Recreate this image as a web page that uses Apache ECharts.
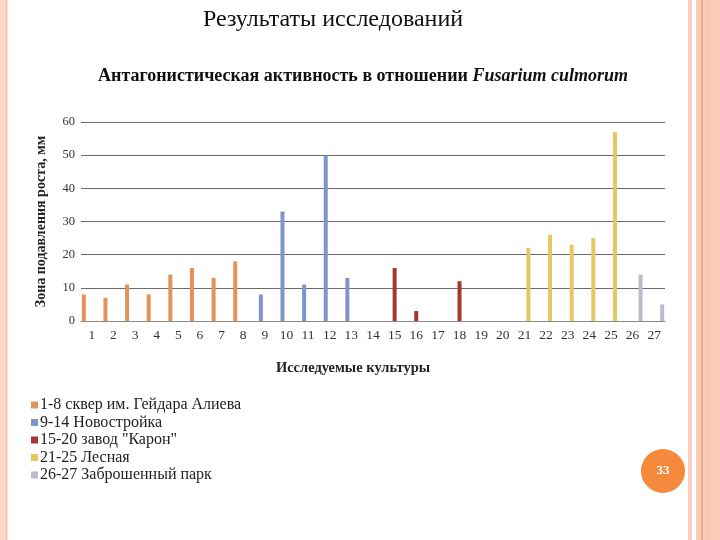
<!DOCTYPE html>
<html>
<head>
<meta charset="utf-8">
<script src="https://cdn.jsdelivr.net/npm/echarts@6/dist/echarts.min.js"></script>
<style>
html,body{margin:0;padding:0;background:#fff;}
#chart{width:720px;height:540px;}
</style>
</head>
<body>
<div id="chart"></div>
<script>
const categories = ['1','2','3','4','5','6','7','8','9','10','11','12','13','14','15','16','17','18','19','20','21','22','23','24','25','26','27'];
const seriesNames = ['1-8 сквер им. Гейдара Алиева','9-14 Новостройка','15-20 завод "Карон"','21-25 Лесная','26-27 Заброшенный парк'];
const skver = [8, 7, 11, 8, 14, 16, 13, 18];      // cultures 1-8
const novostroika = [8, 33, 11, 50, 13, 0];       // cultures 9-14
const karon = [16, 3, 0, 12, 0, 0];               // cultures 15-20
const lesnaya = [22, 26, 23, 25, 57];             // cultures 21-25
const park = [14, 5];                             // cultures 26-27
const groupStart = ['1', '9', '15', '21', '26'];
const yTicks = [0, 10, 20, 30, 40, 50, 60];
const colors = ['#E3925C', '#7F95C9', '#A3372D', '#E4C862', '#B9BCCE'];

const groups = [skver, novostroika, karon, lesnaya, park];
function buildData(vals, start) {
  const idx = categories.indexOf(start);
  return categories.map((c, i) => (i >= idx && i < idx + vals.length) ? vals[i - idx] : '-');
}

const serif = 'Liberation Serif';
const chart = echarts.init(document.getElementById('chart'), null, {renderer: 'canvas'});
chart.setOption({
  animation: false,
  backgroundColor: '#fff',
  color: colors,
  title: [
    {
      text: 'Результаты исследований',
      left: 328, top: 3, textAlign: 'center',
      textStyle: {fontFamily: serif, fontSize: 24, fontWeight: 'normal', color: '#111'}
    },
    {
      text: '{b|Антагонистическая активность в отношении }{i|Fusarium culmorum}',
      left: 358, top: 62, textAlign: 'center',
      textStyle: {
        rich: {
          b: {fontFamily: serif, fontSize: 18, fontWeight: 'bold', color: '#111'},
          i: {fontFamily: serif, fontSize: 18, fontWeight: 'bold', fontStyle: 'italic', color: '#111'}
        }
      }
    }
  ],
  legend: {
    orient: 'vertical',
    left: 31, top: 397,
    padding: 0,
    itemWidth: 7, itemHeight: 7, itemGap: 1.5,
    icon: 'rect',
    data: seriesNames,
    textStyle: {fontFamily: serif, fontSize: 16, color: '#222', padding: [0, 0, 0, -3], lineHeight: 16}
  },
  grid: {left: 81, right: 55, top: 122, bottom: 219, containLabel: false},
  xAxis: {
    type: 'category',
    data: categories,
    name: 'Исследуемые культуры',
    nameLocation: 'middle',
    nameGap: 40,
    nameTextStyle: {fontFamily: serif, fontSize: 14.5, fontWeight: 'bold', color: '#222', padding: [0, 40, 0, 0]},
    axisLine: {lineStyle: {color: '#8a8a8a'}},
    axisTick: {show: false},
    axisLabel: {fontFamily: serif, fontSize: 13.5, color: '#333', margin: 7, interval: 0}
  },
  yAxis: {
    type: 'value',
    min: 0, max: 60, interval: 10,
    name: 'Зона подавления роста, мм',
    nameLocation: 'middle',
    nameGap: 33,
    nameTextStyle: {fontFamily: serif, fontSize: 14, fontWeight: 'bold', color: '#222'},
    axisLine: {show: false},
    axisTick: {show: false},
    axisLabel: {fontFamily: serif, fontSize: 12.5, color: '#333', margin: 6,
      formatter: v => yTicks.includes(v) ? String(v) : ''},
    splitLine: {lineStyle: {color: '#6a6a6a', width: 1}}
  },
  series: groups.map((vals, i) => ({
    name: seriesNames[i],
    type: 'bar',
    data: buildData(vals, groupStart[i]),
    barWidth: 4,
    barGap: '0%',
    itemStyle: {color: colors[i]}
  })),
  graphic: [
    {type: 'rect', shape: {x: 0, y: 0, width: 7, height: 540}, style: {fill: '#FBD8CA'}, silent: true},
    {type: 'rect', shape: {x: 6, y: 0, width: 1.5, height: 540}, style: {fill: '#F7BFA8'}, silent: true},
    {type: 'rect', shape: {x: 688, y: 0, width: 4, height: 540}, style: {fill: '#FAD0C0'}, silent: true},
    {type: 'rect', shape: {x: 696, y: 0, width: 24, height: 540}, style: {fill: '#FCCBB8'}, silent: true},
    {type: 'rect', shape: {x: 701, y: 0, width: 2, height: 540}, style: {fill: '#F1A886'}, silent: true},
    {type: 'rect', shape: {x: 708, y: 0, width: 1, height: 540}, style: {fill: '#F8BEA7'}, silent: true},
    {type: 'circle', shape: {cx: 663, cy: 471, r: 22}, style: {fill: '#F68A3C'}, silent: true},
    {type: 'text', x: 663, y: 471, style: {text: '33', fontFamily: serif, fontSize: 13, fontWeight: 'bold', fill: '#fff', align: 'center', verticalAlign: 'middle'}, silent: true}
  ]
});
</script>
</body>
</html>
